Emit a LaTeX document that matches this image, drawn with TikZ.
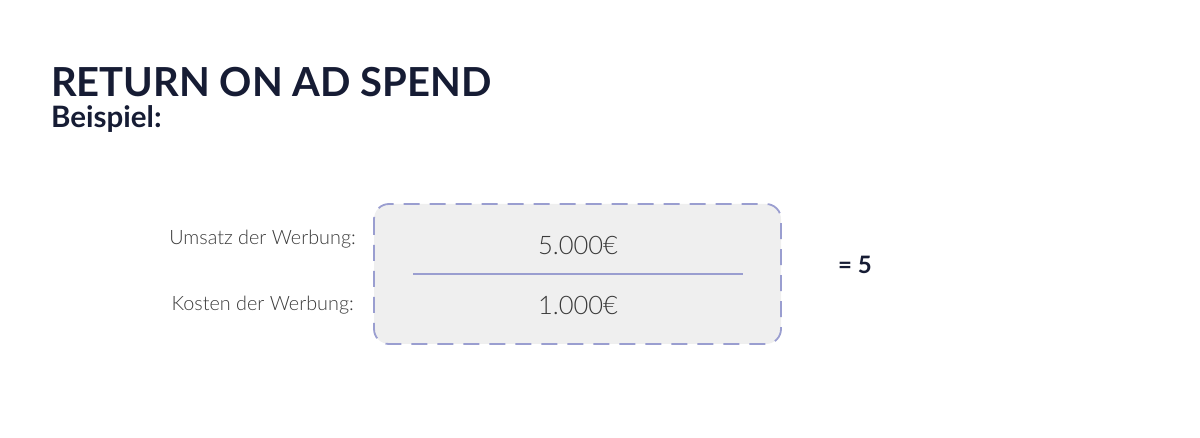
\documentclass[tikz,border=0pt]{standalone}
\usepackage{fontspec}
\setmainfont{Lato}
\newfontfamily\latolight{Lato Light}
\usetikzlibrary{positioning}
\definecolor{navy}{HTML}{161C34}
\definecolor{boxfill}{HTML}{EFEFEF}
\definecolor{lav}{HTML}{9A9ED0}
\definecolor{txt}{HTML}{3A3A3A}
\tikzset{
  title/.style={anchor=base west, inner sep=0pt, text=navy, font=\bfseries\fontsize{40}{40}\selectfont},
  subtitle/.style={anchor=base west, inner sep=0pt, text=navy, font=\bfseries\fontsize{29.5}{29.5}\selectfont},
  label/.style={anchor=base east, inner sep=0pt, text=txt, font=\latolight\fontsize{19.8}{19.8}\selectfont},
  value/.style={anchor=base, inner sep=0pt, text=txt, font=\latolight\fontsize{25.5}{25.5}\selectfont},
  result/.style={anchor=base west, inner sep=0pt, text=navy, font=\bfseries\fontsize{24}{24}\selectfont},
  fracbox/.style={draw=lav, fill=boxfill, line width=1.8pt, rounded corners=15pt, dash pattern=on 16pt off 10pt},
}
\begin{document}
\begin{tikzpicture}[x=1pt,y=-1pt]
\useasboundingbox (0,0) rectangle (1200,438);
\draw[fracbox] (374,204) rectangle (781,344);
\node[title] (t) at (51,97) {RETURN ON AD SPEND};
\node[subtitle] (s) at (51,128) {Beispiel:};
\node[label] (l1) at (356,245) {Umsatz der Werbung:};
\node[label] (l2) at (354,311) {Kosten der Werbung:};
\node[value] (v1) at (578,255) {5.000€};
\node[value] (v2) at (578,315) {1.000€};
\coordinate (la) at (413,274);
\coordinate (lb) at (743,274);
\draw[lav, line width=1.5pt] (la) -- (lb);
\node[result] (r) at (838,274) {= 5};
\end{tikzpicture}
\end{document}
